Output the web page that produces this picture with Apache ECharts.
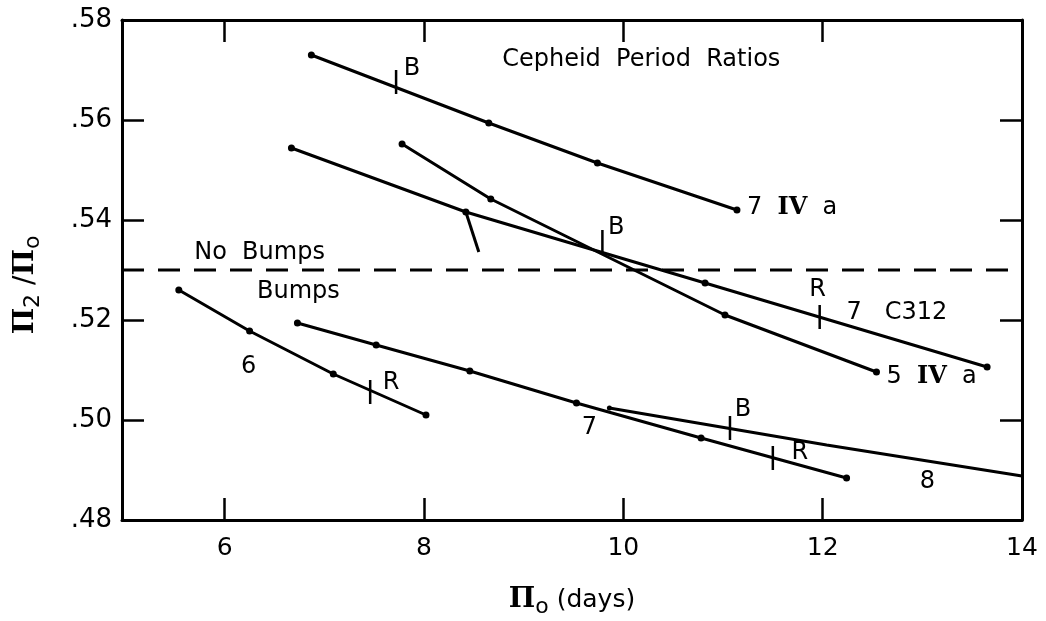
<!DOCTYPE html>
<html>
<head>
<meta charset="utf-8">
<script src="https://cdn.jsdelivr.net/npm/echarts@6/dist/echarts.min.js"></script>
<style>
  html, body { margin: 0; padding: 0; background: #fff; }
  #chart { width: 1046px; height: 621px; }
</style>
</head>
<body>
<div id="chart"></div>
<script>
// period (days) vs period ratio
const topIVaX = [6.87, 8.65, 9.74, 11.14]
const topIVaY = [0.573, 0.5594, 0.5514, 0.542]

const c312X = [6.67, 8.42, 10.82, 13.65]
const c312Y = [0.5544, 0.5416, 0.5274, 0.5106]

const c312SpurX = [8.42, 8.55]
const c312SpurY = [0.5416, 0.5336]

const fiveIVaX = [7.78, 8.67, 11.02, 12.54]
const fiveIVaY = [0.5552, 0.5442, 0.521, 0.5096]

const sixX = [5.54, 6.25, 7.09, 8.02]
const sixY = [0.526, 0.5178, 0.5092, 0.501]

const sevenX = [6.73, 7.52, 8.46, 9.53, 10.78, 12.24]
const sevenY = [0.5194, 0.515, 0.5098, 0.5034, 0.4964, 0.4884]

const eightX = [9.86, 12.04, 14.0]
const eightY = [0.5024, 0.495, 0.4888]

// B / R crossing marks [x, y]
const markX = [7.72, 9.79, 11.97, 7.46, 11.07, 11.5]
const markY = [0.5676, 0.5356, 0.5206, 0.5056, 0.4984, 0.4924]

const xTicks = [6, 8, 10, 12]
const xLabels = [6, 8, 10, 12, 14]
const yTicks = [0.50, 0.52, 0.54, 0.56]
const dividerY = 0.53

// annotations [x, y, text, align]
const notes = [
  [10.18, 0.572, 'Cepheid  Period  Ratios', 'center'],
  [7.88, 0.5702, 'B', 'center'],
  [11.24, 0.5424, '{n|7}  {r|IV}  {n|a}', 'left'],
  [9.93, 0.5384, 'B', 'center'],
  [6.35, 0.5334, 'No  Bumps', 'center'],
  [6.74, 0.5256, 'Bumps', 'center'],
  [11.95, 0.526, 'R', 'center'],
  [12.24, 0.5214, '7   C312', 'left'],
  [12.64, 0.5086, '{n|5}  {r|IV}  {n|a}', 'left'],
  [6.24, 0.5106, '6', 'center'],
  [7.67, 0.5074, 'R', 'center'],
  [9.66, 0.4984, '7', 'center'],
  [11.2, 0.502, 'B', 'center'],
  [11.77, 0.4934, 'R', 'center'],
  [13.05, 0.4876, '8', 'center'],
]

const INK = '#000'
const FONT = 'DejaVu Sans'

function pts(xs, ys, dotLast = true) {
  return xs.map((x, i) => ({
    value: [x, ys[i]],
    symbolSize: (i === xs.length - 1 && !dotLast) ? 0 : 7,
  }))
}

function curve(xs, ys, dotLast) {
  return {
    type: 'line',
    data: pts(xs, ys, dotLast),
    symbol: 'circle',
    showSymbol: true,
    lineStyle: { color: INK, width: 3 },
    itemStyle: { color: INK, opacity: 1 },
    silent: true,
    z: 3,
  }
}

const chart = echarts.init(document.getElementById('chart'), null, { renderer: 'canvas' })

const frameAxis = { lineStyle: { color: INK, width: 3 } }

chart.setOption({
  backgroundColor: '#ffffff',
  animation: false,
  grid: { left: 122, right: 24, top: 20, bottom: 101, outerBoundsMode: 'none', containLabel: false },
  xAxis: [
    {
      type: 'value', min: 4.97, max: 14,
      axisLine: frameAxis,
      axisTick: { inside: true, length: 22, customValues: xTicks, lineStyle: { color: INK, width: 2.5 } },
      axisLabel: { customValues: xLabels, fontSize: 25, color: INK, fontFamily: FONT, margin: 16 },
      splitLine: { show: false },
      name: '{p|Π}{s|o}{t| (days)}',
      nameLocation: 'middle',
      nameGap: 62,
      nameTextStyle: {
        rich: {
          p: { fontSize: 28, fontFamily: 'DejaVu Serif', color: INK, fontWeight: 'bold' },
          s: { fontSize: 22, fontFamily: FONT, color: INK, padding: [14, 0, 0, 0] },
          t: { fontSize: 25, fontFamily: FONT, color: INK },
        },
      },
    },
    {
      type: 'value', min: 4.97, max: 14, position: 'top',
      axisLine: frameAxis,
      axisTick: { inside: true, length: 22, customValues: xTicks, lineStyle: { color: INK, width: 2.5 } },
      axisLabel: { show: false },
      splitLine: { show: false },
    },
  ],
  yAxis: [
    {
      type: 'value', min: 0.48, max: 0.58, interval: 0.02,
      axisLine: frameAxis,
      axisTick: { inside: true, length: 22, lineStyle: { color: INK, width: 2.5 } },
      axisLabel: {
        fontSize: 26, color: INK, fontFamily: FONT, margin: 10,
        formatter: v => v.toFixed(2).replace(/^0/, ''),
      },
      splitLine: { show: false },
      name: '{p|Π}{s|2}{t| /}{p|Π}{s|o}',
      nameLocation: 'middle',
      nameRotate: 90,
      nameGap: 78,
      nameTextStyle: {
        padding: [0, 0, 0, -30],
        rich: {
          p: { fontSize: 28, fontFamily: 'DejaVu Serif', color: INK, fontWeight: 'bold' },
          s: { fontSize: 22, fontFamily: FONT, color: INK, padding: [14, 0, 0, 0] },
          t: { fontSize: 28, fontFamily: FONT, color: INK },
        },
      },
    },
    {
      type: 'value', min: 0.48, max: 0.58, position: 'right',
      axisLine: frameAxis,
      axisTick: { inside: true, length: 22, customValues: yTicks, lineStyle: { color: INK, width: 2.5 } },
      axisLabel: { show: false },
      splitLine: { show: false },
    },
  ],
  series: [
    curve(topIVaX, topIVaY, true),
    curve(c312X, c312Y, true),
    {
      ...curve(c312SpurX, c312SpurY, false),
      data: c312SpurX.map((x, i) => ({ value: [x, c312SpurY[i]], symbolSize: 0 })),
    },
    curve(fiveIVaX, fiveIVaY, true),
    curve(sixX, sixY, true),
    curve(sevenX, sevenY, true),
    {
      ...curve(eightX, eightY, false),
      data: eightX.map((x, i) => ({ value: [x, eightY[i]], symbolSize: i === 0 ? 5 : 0 })),
    },
    {
      // no bumps / bumps divider
      type: 'line',
      data: [[4.97, dividerY], [14, dividerY]],
      showSymbol: false,
      lineStyle: { color: INK, width: 3, type: [22, 14] },
      silent: true,
    },
    {
      type: 'scatter',
      data: markX.map((x, i) => [x, markY[i]]),
      symbol: 'rect',
      symbolSize: [2.5, 24],
      itemStyle: { color: INK, opacity: 1 },
      silent: true,
      z: 4,
    },
    {
      type: 'scatter',
      data: notes.map(n => ({
        value: [n[0], n[1]],
        label: { align: n[3] },
      })),
      symbolSize: 0,
      itemStyle: { opacity: 1 },
      silent: true,
      label: {
        show: true,
        position: 'inside',
        formatter: p => notes[p.dataIndex][2],
        fontSize: 24,
        fontFamily: FONT,
        color: INK,
        rich: {
          n: { fontSize: 24, fontFamily: FONT, color: INK },
          r: { fontSize: 24, fontFamily: 'DejaVu Serif', color: INK, fontWeight: 'bold' },
        },
      },
      z: 5,
    },
  ],
})
</script>
</body>
</html>
